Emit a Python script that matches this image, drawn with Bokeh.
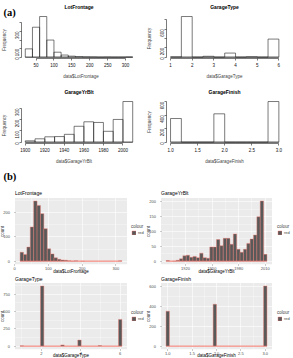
import math
import numpy as np
from bokeh.plotting import figure
from bokeh.layouts import gridplot
from bokeh.models import (Range1d, FixedTicker, PrintfTickFormatter, Label,
                          Legend, LegendItem)
from bokeh.embed import file_html
from bokeh.resources import INLINE

SANS = "Liberation Sans"
SERIF = "Liberation Serif"

# ---------------- (a) base-graphics histograms ----------------
lot_breaks = [20, 40, 60, 80, 100, 120, 140, 160, 180, 200, 220, 240, 260, 280, 300, 320]
lot_freq = [97, 350, 475, 200, 58, 25, 12, 6, 3, 2, 0, 1, 0, 0, 2]
lot_xticks = [50, 100, 150, 200, 250, 300]
lot_yticks = [0, 100, 200, 300, 400]
lot_yskip = [200, 400]

type_breaks = [1.0, 1.5, 2.0, 2.5, 3.0, 3.5, 4.0, 4.5, 5.0, 5.5, 6.0]
type_freq = [6, 870, 0, 19, 0, 88, 0, 9, 0, 387]
type_xticks = [1, 2, 3, 4, 5, 6]
type_yticks = [0, 200, 400, 600, 800]
type_yskip = [400, 800]

yrblt_breaks = [1900, 1910, 1920, 1930, 1940, 1950, 1960, 1970, 1980, 1990, 2000, 2010]
yrblt_freq = [12, 30, 48, 50, 70, 142, 182, 176, 97, 203, 363]
yrblt_xticks = [1900, 1920, 1940, 1960, 1980, 2000]
yrblt_yticks = [0, 100, 200, 300]

finish_breaks = [1.0, 1.2, 1.4, 1.6, 1.8, 2.0, 2.2, 2.4, 2.6, 2.8, 3.0]
finish_freq = [352, 0, 0, 0, 422, 0, 0, 0, 0, 605]
finish_xticks = [1.0, 1.5, 2.0, 2.5, 3.0]
finish_yticks = [0, 200, 400, 600]

# ---------------- (b) ggplot-style histograms, 30 bins each ----------------
lot_range = (21, 313)
lot_count = [37, 28, 58, 141, 248, 230, 196, 134, 51, 30, 14, 8, 5, 4, 2,
             1, 2, 0, 1, 0, 0, 0, 0, 0, 0, 0, 0, 0, 0, 2]
lot_gx = ([0, 100, 200, 300], [50, 150, 250])
lot_gy = ([0, 100, 200], [50, 150, 250])

yrblt_range = (1900, 2010)
yrblt_count = [2, 0, 1, 3, 8, 18, 20, 13, 16, 12, 27, 12, 10, 48, 48,
               73, 52, 77, 77, 57, 92, 40, 30, 40, 60, 75, 88, 150, 203, 23]
yrblt_gx = ([1920, 1950, 1980, 2010], [1905, 1935, 1965, 1995])
yrblt_gy = ([0, 50, 100, 150, 200], [25, 75, 125, 175])

type_range = (1, 6)
type_count = [6, 0, 0, 0, 0, 0, 870, 0, 0, 0, 0, 0, 19, 0, 0,
              0, 0, 88, 0, 0, 0, 0, 0, 9, 0, 0, 0, 0, 0, 387]
type_gx = ([2, 4, 6], [1, 3, 5])
type_gy = ([0, 250, 500, 750], [125, 375, 625, 875])

finish_range = (1, 3)
finish_count = [352, 0, 0, 0, 0, 0, 0, 0, 0, 0, 0, 0, 0, 0, 422,
                0, 0, 0, 0, 0, 0, 0, 0, 0, 0, 0, 0, 0, 0, 605]
finish_gx = ([1.0, 1.5, 2.0, 2.5, 3.0], [1.25, 1.75, 2.25, 2.75])
finish_gy = ([0, 200, 400, 600], [100, 300, 500])


def place(dlo, dhi, plo, phi, size):
    """Range that puts data interval [dlo, dhi] on pixels [plo, phi] of a canvas `size` long."""
    s = (dhi - dlo) / (phi - plo)
    return Range1d(dlo - plo * s, dhi + (size - phi) * s)


def text(p, x, y, txt, size, align="center", style="normal", font=SANS):
    # x, y in canvas pixels measured from the top-left corner
    p.add_layout(Label(x=x, y=p.height - y, x_units="screen", y_units="screen",
                       text=txt, text_font=font, text_font_size=size,
                       text_font_style=style, text_align=align,
                       text_baseline="middle", text_color="black"))


def base_hist(breaks, freq, title, xlab, xticks, yticks, yskip, W, H, region,
              title_x, xfmt=None):
    lo, hi = breaks[0], breaks[-1]
    top = max(freq)
    x0, x1 = lo - 0.04 * (hi - lo), hi + 0.04 * (hi - lo)
    y0, y1 = -0.04 * top, 1.04 * top
    px0, px1, py0, py1 = region
    p = figure(width=W, height=H, x_range=place(x0, x1, px0, px1, W),
               y_range=place(y0, y1, H - py1, H - py0, H),
               min_border=0, output_backend="svg", toolbar_location=None)
    p.outline_line_color = None
    p.grid.visible = False

    xa, ya = p.xaxis[0], p.yaxis[0]
    xa.fixed_location = y0
    ya.fixed_location = x0
    xa.ticker = FixedTicker(ticks=xticks)
    xa.bounds = (xticks[0], xticks[-1])
    if xfmt:
        xa.formatter = PrintfTickFormatter(format=xfmt)
    ya.ticker = FixedTicker(ticks=yticks)
    ya.bounds = (yticks[0], yticks[-1])
    ya.major_label_overrides = {t: "" for t in yskip}
    ya.major_label_orientation = math.pi / 2
    xa.axis_label = xlab
    ya.axis_label = "Frequency"
    for ax in (xa, ya):
        ax.axis_line_color = "#222222"
        ax.axis_line_width = 0.6
        ax.major_tick_line_color = "#222222"
        ax.major_tick_line_width = 0.6
        ax.major_tick_in = 0
        ax.major_tick_out = 2
        ax.minor_tick_line_color = None
        ax.major_label_text_font = SANS
        ax.major_label_text_font_size = "4.5px"
        ax.major_label_text_color = "#111111"
        ax.major_label_standoff = 2
        ax.axis_label_text_font = SANS
        ax.axis_label_text_font_size = "4.5px"
        ax.axis_label_text_font_style = "normal"
        ax.axis_label_standoff = 4

    p.quad(left=breaks[:-1], right=breaks[1:], top=freq, bottom=0,
           fill_color=None, line_color="#222222", line_width=0.6)
    p.segment(x0=[lo], x1=[hi], y0=[0], y1=[0], line_color="#222222", line_width=0.6)
    text(p, title_x, 6, title, "5px", style="bold")
    return p


def gg_hist(rng, counts, title, xlab, gx, gy, W, H, region, legend_xy, title_y,
            xlab_y, xfmt=None):
    lo, hi = rng
    n = len(counts)
    w = (hi - lo) / (n - 1)
    centers = lo + w * np.arange(n)
    lefts, rights = centers - w / 2, centers + w / 2
    e0, e1 = lefts[0], rights[-1]
    pad = 0.05 * (e1 - e0)
    ymax = max(counts)
    x0, x1 = e0 - pad, e1 + pad
    y0, y1 = -0.05 * ymax, 1.05 * ymax
    px0, px1, py0, py1 = region
    p = figure(width=W, height=H, x_range=place(x0, x1, px0, px1, W),
               y_range=place(y0, y1, H - py1, H - py0, H),
               min_border=0, output_backend="svg", toolbar_location=None)
    p.outline_line_color = None

    # grey panel behind the grid
    p.quad(left=[x0], right=[x1], bottom=[y0], top=[y1],
           fill_color="#EBEBEB", line_color=None, level="image")

    xa, ya = p.xaxis[0], p.yaxis[0]
    xa.fixed_location = y0
    ya.fixed_location = x0
    xa.ticker = FixedTicker(ticks=gx[0], minor_ticks=gx[1])
    ya.ticker = FixedTicker(ticks=gy[0], minor_ticks=gy[1])
    xa.bounds = (min(x0, gx[0][0]), max(x1, gx[0][-1]))
    ya.bounds = (y0, y1)
    if xfmt:
        xa.formatter = PrintfTickFormatter(format=xfmt)
    ya.axis_label = "count"
    for ax in (xa, ya):
        ax.axis_line_color = None
        ax.major_tick_line_color = "#333333"
        ax.major_tick_line_width = 0.5
        ax.major_tick_in = 0
        ax.major_tick_out = 1
        ax.minor_tick_line_color = None
        ax.major_label_text_font = SANS
        ax.major_label_text_font_size = "4px"
        ax.major_label_text_color = "#4D4D4D"
        ax.major_label_standoff = 1
        ax.axis_label_text_font = SANS
        ax.axis_label_text_font_size = "4.5px"
        ax.axis_label_text_font_style = "normal"
    xa.major_label_standoff = -1
    ya.axis_label_standoff = -4

    for g in (p.xgrid[0], p.ygrid[0]):
        g.grid_line_color = "white"
        g.grid_line_width = 0.6
        g.minor_grid_line_color = "white"
        g.minor_grid_line_width = 0.3
    p.xgrid[0].bounds = (x0, x1)
    p.ygrid[0].bounds = (y0, y1)

    r = p.quad(left=lefts, right=rights, top=counts, bottom=0,
               fill_color="#595959", line_color="#F8766D", line_width=0.4)
    p.segment(x0=[e0], x1=[e1], y0=[0], y1=[0], line_color="#F8766D", line_width=0.5)

    legend = Legend(items=[LegendItem(label="red", renderers=[r])], title="colour",
                    location=legend_xy,
                    label_text_font=SANS, label_text_font_size="4px",
                    title_text_font=SANS, title_text_font_size="4.5px",
                    title_text_font_style="normal", title_standoff=1,
                    glyph_width=5, glyph_height=5, label_standoff=2,
                    label_height=5, label_width=6,
                    padding=0, margin=0, spacing=0,
                    border_line_color=None, background_fill_alpha=0)
    p.add_layout(legend)
    text(p, px0, title_y, title, "5px", align="left")
    text(p, (px0 + px1) / 2, xlab_y, xlab, "4.5px")
    return p


# cell sizes: columns 146 / 147 px, rows 85 / 85 / 105 / 83 px
a1 = base_hist(lot_breaks, lot_freq, "LotFrontage", "data$LotFrontage",
               lot_xticks, lot_yticks, lot_yskip, 146, 85, (20.5, 136.5, 14.4, 58.3), 78.5)
a2 = base_hist(type_breaks, type_freq, "GarageType", "data$GarageType",
               type_xticks, type_yticks, type_yskip, 147, 85, (19.7, 136.7, 14.4, 58.3), 78)
a3 = base_hist(yrblt_breaks, yrblt_freq, "GarageYrBlt", "data$GarageYrBlt",
               yrblt_xticks, yrblt_yticks, [], 146, 85, (20.5, 136.5, 14.4, 58.3), 78.5)
a4 = base_hist(finish_breaks, finish_freq, "GarageFinish", "data$GarageFinish",
               finish_xticks, finish_yticks, [], 147, 85, (19.7, 136.7, 14.4, 58.3), 78,
               xfmt="%.1f")

b1 = gg_hist(lot_range, lot_count, "LotFrontage", "data$LotFrontage", lot_gx, lot_gy,
             146, 105, (14.5, 126.5, 27.5, 93.7), (131, 40), 22, 100.8)
b2 = gg_hist(yrblt_range, yrblt_count, "GarageYrBlt", "data$GarageYrBlt", yrblt_gx, yrblt_gy,
             147, 105, (14.5, 125.5, 27.5, 93.7), (131, 40), 22, 100.8)
b3 = gg_hist(type_range, type_count, "GarageType", "data$GarageType", type_gx, type_gy,
             146, 83, (14.5, 126.5, 7.5, 73.7), (131, 37), 3.5, 80.3)
b4 = gg_hist(finish_range, finish_count, "GarageFinish", "data$GarageFinish", finish_gx,
             finish_gy, 147, 83, (14.5, 125.5, 7.5, 73.7), (131, 37), 3.5, 80.3, xfmt="%.1f")

# panel letters
text(a1, 3, 11.5, "(a)", "10.5px", align="left", style="bold", font=SERIF)
text(b1, 3, 5.5, "(b)", "10.5px", align="left", style="bold", font=SERIF)

grid = gridplot([[a1, a2], [a3, a4], [b1, b2], [b3, b4]], toolbar_location=None)

open("out.html", "w").write(file_html(grid, INLINE))
